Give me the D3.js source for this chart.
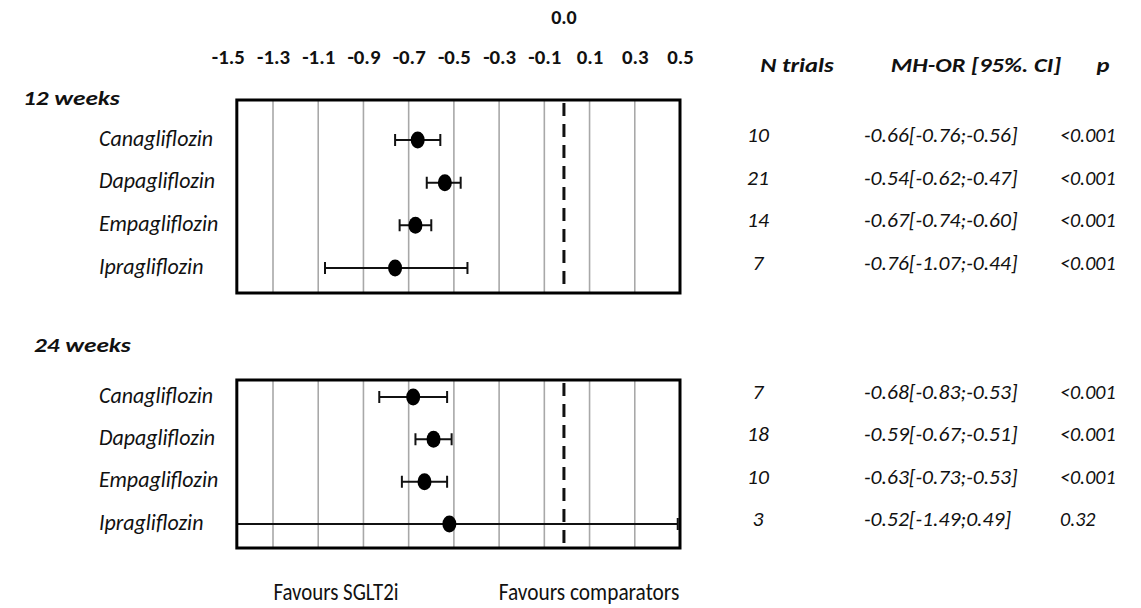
<!DOCTYPE html>
<html>
<head>
<meta charset="utf-8">
<script src="https://cdn.jsdelivr.net/npm/d3@7"></script>
<style>
  html, body { margin: 0; padding: 0; background: #fff; }
  svg { display: block; }
  text { font-family: Carlito, Lato, "Open Sans", sans-serif; fill: #111; }
</style>
</head>
<body>
<svg id="chart" width="1141" height="608"></svg>
<script>
// ---------- data ----------
const drugs = ["Canagliflozin", "Dapagliflozin", "Empagliflozin", "Ipragliflozin"];

const est12 = [-0.66, -0.54, -0.67, -0.76];
const lo12  = [-0.76, -0.62, -0.74, -1.07];
const hi12  = [-0.56, -0.47, -0.60, -0.44];
const n12   = [10, 21, 14, 7];
const p12   = ["<0.001", "<0.001", "<0.001", "<0.001"];

const est24 = [-0.68, -0.59, -0.63, -0.52];
const lo24  = [-0.83, -0.67, -0.73, -1.49];
const hi24  = [-0.53, -0.51, -0.53, 0.49];
const n24   = [7, 18, 10, 3];
const p24   = ["<0.001", "<0.001", "<0.001", "0.32"];

const tickValues = [-1.5, -1.3, -1.1, -0.9, -0.7, -0.5, -0.3, -0.1, 0.1, 0.3, 0.5];
const gridValues = [-1.3, -1.1, -0.9, -0.7, -0.5, -0.3, -0.1, 0.1, 0.3];
const frameDomain = [-1.46, 0.5];
const headers = ["N trials", "MH-OR [95%. CI]", "p"];
const favourLabels = ["Favours SGLT2i", "Favours comparators"];

// ---------- helpers ----------
const svg = d3.select("#chart");
function txt(parent, x, y, s, o = {}) {
  return parent.append("text")
    .attr("transform", `translate(${x},${y}) scale(${o.sx || 1},1)`)
    .attr("dy", "0.35em")
    .attr("text-anchor", o.anchor || "start")
    .attr("font-size", o.size || 20)
    .attr("font-weight", o.weight || "normal")
    .attr("font-style", o.style || "normal")
    .text(s);
}

// ---------- layout ----------
const x = d3.scaleLinear().domain([-1.3, 0.5]).range([273, 680]);

const panels = [
  { title: "12 weeks", titleX: 23, titleY: 98, top: 100, bottom: 293, rows: [140, 268],
    est: est12, lo: lo12, hi: hi12, n: n12, p: p12 },
  { title: "24 weeks", titleX: 34, titleY: 345, top: 380, bottom: 548, rows: [397, 524],
    est: est24, lo: lo24, hi: hi24, n: n24, p: p24 }
];

// top axis labels
const axis = d3.axisTop(x).tickValues(tickValues).tickSize(0).tickPadding(0)
  .tickFormat(d => d.toFixed(1));
const axG = svg.append("g").attr("transform", "translate(0,64)").call(axis);
axG.select(".domain").remove();
axG.selectAll("text")
  .attr("font-size", 20).attr("font-weight", "bold").attr("fill", "#111")
  .attr("transform", "scale(1.04,1)");

txt(svg, x(0) - 3, 17, (0).toFixed(1), { size: 20, weight: "bold", anchor: "middle" });

// headers
const colN = 758, colOR = 864, colP = 1060;
const hdrOpts = { size: 21, weight: "bold", style: "italic", anchor: "middle", sx: 1.17 };
txt(svg, 797, 65, headers[0], hdrOpts);
txt(svg, 976, 65, headers[1], hdrOpts);
txt(svg, 1103, 65, headers[2], hdrOpts);

panels.forEach((pn, pi) => {
  const y = d3.scalePoint().domain(drugs).range(pn.rows);
  const g = svg.append("g");
  const x0 = x(frameDomain[0]), x1 = x(frameDomain[1]);

  const clipId = "clip" + pi;
  svg.append("clipPath").attr("id", clipId).append("rect")
    .attr("x", x0).attr("y", pn.top).attr("width", x1 - x0).attr("height", pn.bottom - pn.top);

  // title
  txt(svg, pn.titleX, pn.titleY, pn.title, { size: 21, weight: "bold", style: "italic", sx: 1.2 });

  // gridlines
  g.selectAll("line.grid").data(gridValues).join("line").attr("class", "grid")
    .attr("x1", d => x(d)).attr("x2", d => x(d)).attr("y1", pn.top).attr("y2", pn.bottom)
    .attr("stroke", "#a8a8a8").attr("stroke-width", 1.6);

  // zero line
  g.append("line").attr("x1", x(0) - 3).attr("x2", x(0) - 3)
    .attr("y1", pn.top + 3).attr("y2", pn.bottom)
    .attr("stroke", "#111").attr("stroke-width", 3).attr("stroke-dasharray", "13,8");

  const marks = g.append("g").attr("clip-path", `url(#${clipId})`);
  drugs.forEach((d, i) => {
    const yy = y(d);
    marks.append("line").attr("x1", x(pn.lo[i])).attr("x2", x(pn.hi[i]))
      .attr("y1", yy).attr("y2", yy).attr("stroke", "#111").attr("stroke-width", 2);
    [pn.lo[i], pn.hi[i]].forEach(v => {
      marks.append("line").attr("x1", x(v)).attr("x2", x(v))
        .attr("y1", yy - 6).attr("y2", yy + 6).attr("stroke", "#111").attr("stroke-width", 2);
    });
    marks.append("ellipse").attr("cx", x(pn.est[i])).attr("cy", yy)
      .attr("rx", 7).attr("ry", 8.5).attr("fill", "#000");

    // row label
    txt(svg, 99, yy - 2, d, { size: 21.5, style: "italic", sx: 1.02 });
    // table
    const rowOpts = { size: 20, style: "italic", sx: 1.08 };
    txt(svg, colN, yy - 5, pn.n[i], { ...rowOpts, anchor: "middle" });
    txt(svg, colOR, yy - 5, `${pn.est[i].toFixed(2)}[${pn.lo[i].toFixed(2)};${pn.hi[i].toFixed(2)}]`, rowOpts);
    txt(svg, colP, yy - 5, pn.p[i], { ...rowOpts, sx: 1.0 });
  });

  // frame
  g.append("rect").attr("x", x0).attr("y", pn.top).attr("width", x1 - x0).attr("height", pn.bottom - pn.top)
    .attr("fill", "none").attr("stroke", "#000").attr("stroke-width", 3);
});

// favour labels
txt(svg, 336, 592, favourLabels[0], { size: 24, anchor: "middle", sx: 0.87 });
txt(svg, 589, 592, favourLabels[1], { size: 24, anchor: "middle", sx: 0.89 });
</script>
</body>
</html>
